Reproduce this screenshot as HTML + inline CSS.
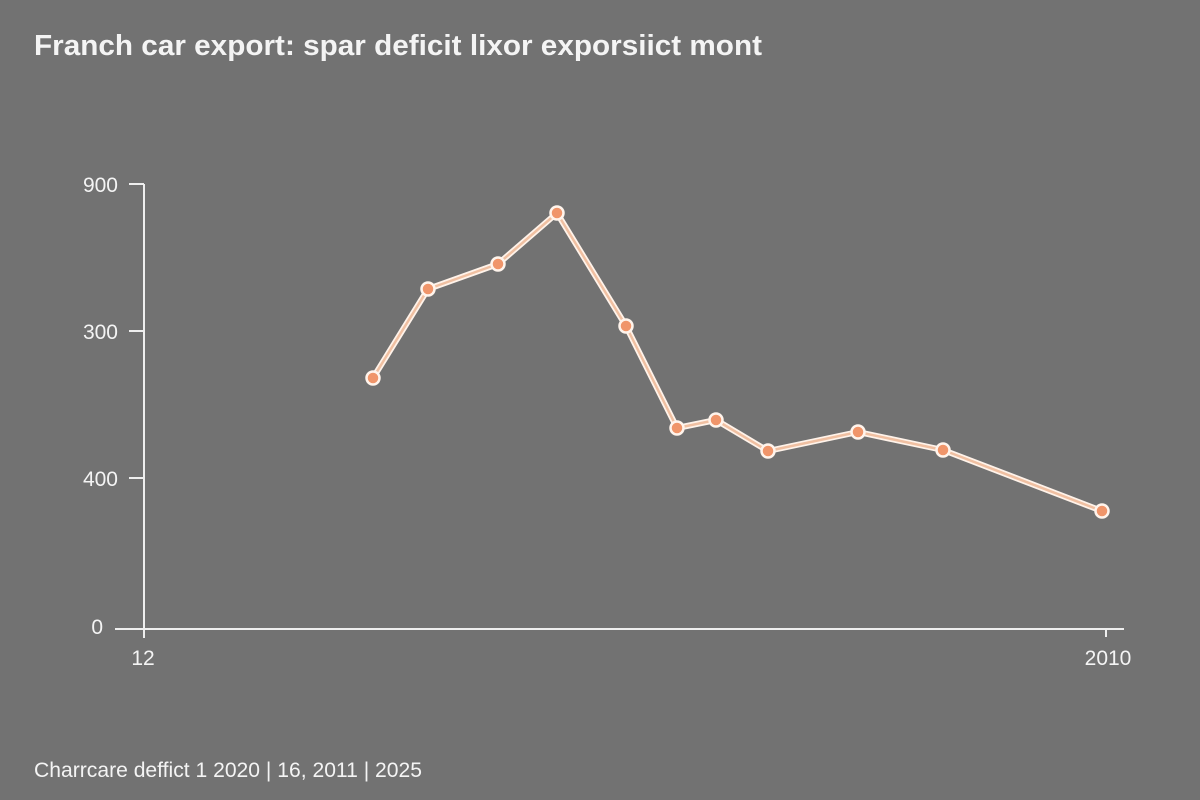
<!DOCTYPE html>
<html><head><meta charset="utf-8"><style>
html,body{margin:0;padding:0;background:#727272;}
svg{display:block;}
text{font-family:"Liberation Sans",sans-serif;fill:#f4f4f4;}
</style></head><body>
<svg width="1200" height="800" viewBox="0 0 1200 800">
<rect width="1200" height="800" fill="#727272"/>
<text x="34" y="55" font-size="29" font-weight="bold" fill="#fafafa" textLength="728" lengthAdjust="spacingAndGlyphs">Franch car export: spar deficit lixor exporsiict mont</text>
<g stroke="#eeeeee" stroke-width="2" fill="none">
<line x1="144" y1="184" x2="144" y2="638"/>
<line x1="115" y1="629" x2="1124" y2="629"/>
<line x1="129" y1="184" x2="144" y2="184"/>
<line x1="129" y1="331" x2="144" y2="331"/>
<line x1="129" y1="478" x2="144" y2="478"/>
<line x1="1106" y1="629" x2="1106" y2="637"/>
</g>
<g font-size="21" text-anchor="end">
<text x="118" y="192">900</text>
<text x="118" y="339">300</text>
<text x="118" y="486">400</text>
<text x="103" y="634">0</text>
</g>
<text x="143" y="665" font-size="21" text-anchor="middle">12</text>
<text x="1108" y="665" font-size="21" text-anchor="middle">2010</text>
<text x="34" y="777" font-size="21" textLength="388" lengthAdjust="spacingAndGlyphs">Charrcare deffict 1 2020 | 16, 2011 | 2025</text>
<polyline points="373,378 428,289 498,264 557,213 626,326 677,428 716,420 768,451 858,432 943,450 1102,511" fill="none" stroke="#fff3ea" stroke-width="6" stroke-linejoin="round"/>
<polyline points="373,378 428,289 498,264 557,213 626,326 677,428 716,420 768,451 858,432 943,450 1102,511" fill="none" stroke="#f0c0a2" stroke-width="2.5" stroke-linejoin="round"/>
<g fill="#f0956a" stroke="#fff4ec" stroke-width="2.5">
<circle cx="373" cy="378" r="6.5"/><circle cx="428" cy="289" r="6.5"/><circle cx="498" cy="264" r="6.5"/><circle cx="557" cy="213" r="6.5"/><circle cx="626" cy="326" r="6.5"/><circle cx="677" cy="428" r="6.5"/><circle cx="716" cy="420" r="6.5"/><circle cx="768" cy="451" r="6.5"/><circle cx="858" cy="432" r="6.5"/><circle cx="943" cy="450" r="6.5"/><circle cx="1102" cy="511" r="6.5"/>
</g>
</svg>
</body></html>
